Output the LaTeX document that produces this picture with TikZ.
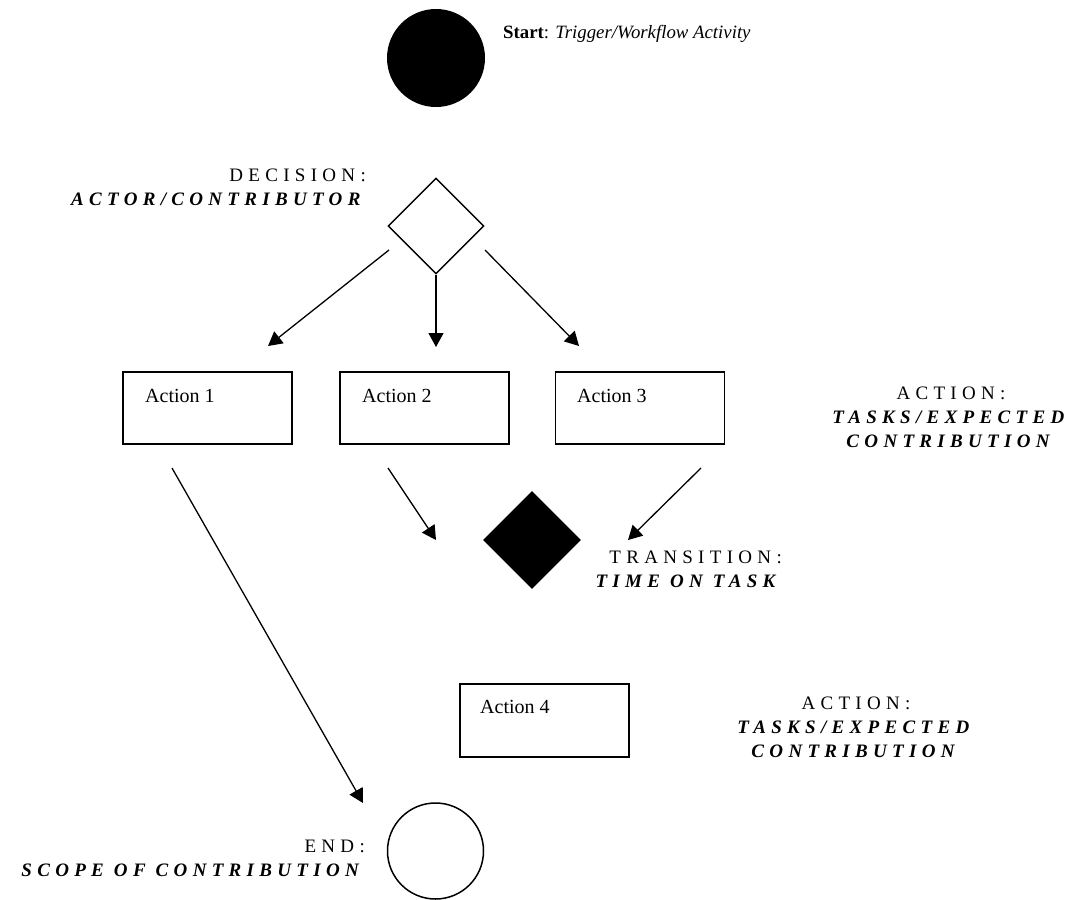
\documentclass[tikz,border=0pt]{standalone}
\usepackage{fontspec}
\setmainfont{Liberation Serif}
\newfontfamily\lblfont[LetterSpace=28]{Liberation Serif}
\usetikzlibrary{shapes.geometric,arrows.meta}
\begin{document}
\begin{tikzpicture}[x=1pt,y=-1pt,
  arr/.style={line width=1.3pt, -{Triangle[length=14pt,width=15pt]}},
  actbox/.style={draw, line width=1.5pt, minimum width=169pt, minimum height=72pt, inner sep=0pt},
  acttext/.style={anchor=base west, inner sep=0pt, font=\fontsize{20}{24}\selectfont},
  lbl/.style={inner sep=0pt, font=\lblfont\fontsize{19}{24}\selectfont},
]
\useasboundingbox (0,0) rectangle (1075,899);

% shapes
\node[circle, fill=black, minimum size=98pt, inner sep=0pt] (start) at (436,58) {};
\node[diamond, draw, line width=1.4pt, minimum width=96pt, minimum height=96pt, inner sep=0pt] (dec) at (436,226) {};
\node[actbox] (act1) at (207.5,408) {};
\node[actbox] (act2) at (424.5,408) {};
\node[actbox] (act3) at (640,408) {};
\node[diamond, fill=black, minimum width=98pt, minimum height=98pt, inner sep=0pt] (trans) at (532,540) {};
\node[actbox, minimum height=73pt] (act4) at (544.5,720.5) {};
\node[circle, draw, line width=1.5pt, minimum size=96pt, inner sep=0pt] (end) at (435.5,851) {};

% texts in boxes
\node[acttext] (act1t) at (145,402) {Action 1};
\node[acttext] (act2t) at (362,402) {Action 2};
\node[acttext] (act3t) at (577,402) {Action 3};
\node[acttext] (act4t) at (480,713) {Action 4};

% labels
\node[anchor=base west, inner sep=0pt, font=\fontsize{18.8}{22}\selectfont] (startl) at (503,39) {\textbf{Start}: \textit{Trigger/Workflow Activity}};
\node[lbl, anchor=east, align=right] (decl) at (366,187.5) {DECISION:\\ \textbf{\textit{ACTOR/CONTRIBUTOR}}};
\node[lbl, align=center] (actl1) at (951,417) {ACTION:\\ \textbf{\textit{TASKS/EXPECTED}}\\ \textbf{\textit{CONTRIBUTION}}};
\node[lbl, anchor=east, align=right] (transl) at (782,569) {TRANSITION:\\ \textbf{\textit{TIME ON TASK}}};
\node[lbl, align=center] (actl2) at (856,727) {ACTION:\\ \textbf{\textit{TASKS/EXPECTED}}\\ \textbf{\textit{CONTRIBUTION}}};
\node[lbl, anchor=east, align=right] (endl) at (365,858.5) {END:\\ \textbf{\textit{SCOPE OF CONTRIBUTION}}};

% connector end points
\coordinate (d1s) at (389,250); \coordinate (d1e) at (268,346);
\coordinate (d2s) at (436,275); \coordinate (d2e) at (436,347);
\coordinate (d3s) at (485,250); \coordinate (d3e) at (579,346);
\coordinate (a1s) at (172,468); \coordinate (a1e) at (363,803);
\coordinate (a2s) at (388,468); \coordinate (a2e) at (436,540);
\coordinate (a3s) at (701,468); \coordinate (a3e) at (628,540);

\draw[arr] (d1s) -- (d1e);
\draw[arr] (d2s) -- (d2e);
\draw[arr] (d3s) -- (d3e);
\draw[arr] (a1s) -- (a1e);
\draw[arr] (a2s) -- (a2e);
\draw[arr] (a3s) -- (a3e);
\end{tikzpicture}
\end{document}
